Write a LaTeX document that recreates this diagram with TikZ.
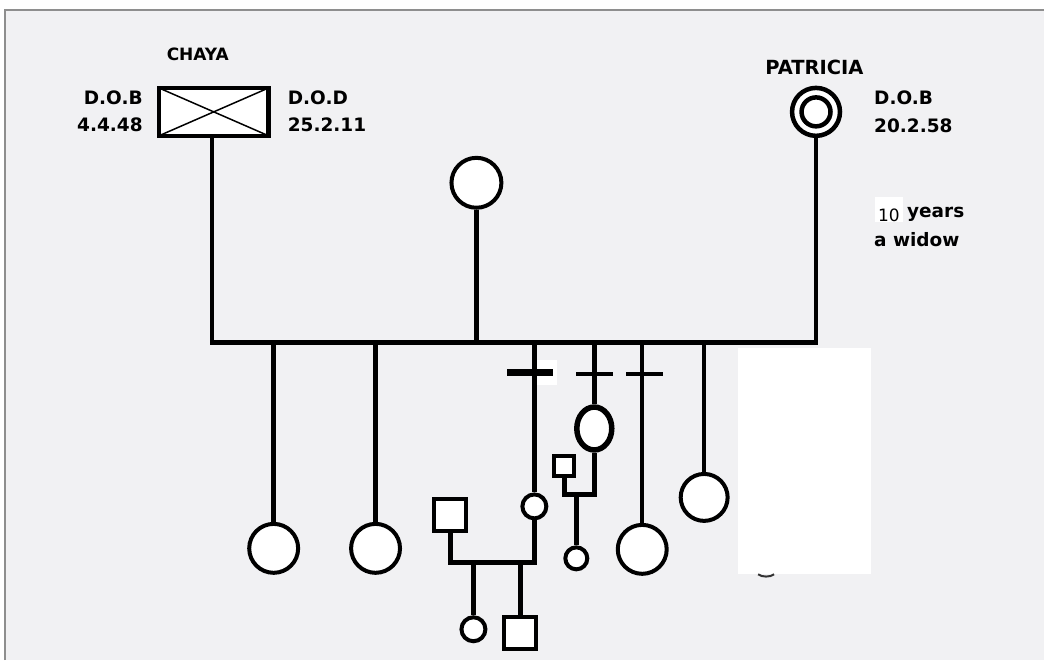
\documentclass[tikz,border=0pt]{standalone}
\usepackage{fontspec}
\setmainfont{DejaVu Sans}
\usetikzlibrary{shapes.geometric}
\definecolor{bgc}{HTML}{F1F1F3}
\definecolor{framec}{HTML}{8E8E8E}
\begin{document}
\begin{tikzpicture}[x=1pt,y=-1pt,
  ln/.style={line width=4.5pt},
  pc/.style={circle,draw,fill=white,line width=4pt,inner sep=0pt},
  ps/.style={rectangle,draw,fill=white,line width=4pt,inner sep=0pt},
  lbl/.style={font=\bfseries\fontsize{18.5}{18.5}\selectfont,inner sep=0pt},
  barthin/.style={line width=4pt},
  barthick/.style={line width=6.5pt}]
\fill[white] (0,0) rectangle (1045,661);
\fill[bgc] (5,10) rectangle (1045,661);
\draw[framec,line width=2.5pt] (5,661) -- (5,10) -- (1045,10);
\useasboundingbox (0,0) rectangle (1045,661);

% Chaya
\node[ps,line width=4.5pt,minimum width=110pt,minimum height=48pt,
  path picture={\draw[line width=1.5pt]
    (path picture bounding box.north west) -- (path picture bounding box.south east)
    (path picture bounding box.north east) -- (path picture bounding box.south west);}]
  (chaya) at (214,112) {};
\node[lbl,font=\bfseries\fontsize{17}{17}\selectfont,anchor=base] (nchaya) at (198,61) {CHAYA};
\node[lbl,anchor=base east] (dob1) at (143,105) {D.O.B};
\node[lbl,anchor=base east] (dobv1) at (143,132) {4.4.48};
\node[lbl,anchor=base west] (dod) at (288,105) {D.O.D};
\node[lbl,anchor=base west] (dodv) at (288,132) {25.2.11};

% Patricia
\node[pc,line width=4.5pt,minimum size=48pt] (pat) at (817,112) {};
\node[circle,draw,line width=4.5pt,minimum size=29pt,inner sep=0pt] (pati) at (817,112) {};
\node[lbl,font=\bfseries\fontsize{19.5}{19.5}\selectfont,anchor=base west] (npat) at (766,75) {PATRICIA};
\node[lbl,anchor=base west] (dob2) at (875,105) {D.O.B};
\node[lbl,anchor=base west] (dobv2) at (875,133) {20.2.58};
\node[fill=white,minimum width=28pt,minimum height=25pt,inner sep=0pt,anchor=north west] (tenbox) at (876,197) {};
\node[font=\fontsize{17}{17}\selectfont,inner sep=0pt,anchor=base] (ten) at (890,222) {10};
\node[lbl,anchor=base west] (years) at (908,218) {years};
\node[lbl,anchor=base west] (widow) at (875,247) {a widow};

% middle parent
\node[pc,minimum size=50pt] (mid) at (477,183) {};

% main line
\coordinate (jL) at (212,343);
\coordinate (jR) at (817,343);
\draw[ln] (chaya.south -| jL) -- (jL) -- (jR) -- (pat.south);
\draw[ln] (mid.south) -- (mid.south |- jL);

% children
\node[pc,minimum size=49pt] (k1) at (274,549) {};
\node[pc,minimum size=49pt] (k2) at (376,549) {};
\node[pc,minimum size=24pt] (k3) at (535,507) {};
\node[ellipse,draw,fill=white,line width=5.5pt,minimum width=35pt,minimum height=43pt,inner sep=0pt] (k4) at (595,429) {};
\node[pc,minimum size=49pt] (k5) at (643,550) {};
\node[pc,minimum size=47pt] (k6) at (705,498) {};
\foreach \k in {k1,k2,k3,k4,k5,k6}
  \draw[ln] (\k.north |- jL) -- (\k.north);

% bars (separations)
\fill[white] (538,360) rectangle (558,385);
\coordinate (b3L) at (508,373); \coordinate (b3R) at (554,373);
\draw[barthick] (b3L) -- (b3R);
\coordinate (b4L) at (577,374); \coordinate (b4R) at (614,374);
\draw[barthin] (b4L) -- (b4R);
\coordinate (b5L) at (627,374); \coordinate (b5R) at (664,374);
\draw[barthin] (b5L) -- (b5R);

% family of k3
\node[ps,minimum size=32pt] (s3) at (451,516) {};
\coordinate (u3L) at (451,563);
\coordinate (u3R) at (535,563);
\draw[ln] (s3.south) -- (u3L) -- (u3R) -- (k3.south);
\node[pc,minimum size=24pt] (g1) at (474,630) {};
\node[ps,minimum size=32pt] (g2) at (521,634) {};
\draw[ln] (g1.north |- u3L) -- (g1.north);
\draw[ln] (g2.north |- u3L) -- (g2.north);

% family of k4
\node[ps,minimum size=20pt] (s4) at (565,467) {};
\coordinate (u4L) at (565,495);
\coordinate (u4R) at (595,495);
\draw[ln] (s4.south) -- (u4L) -- (u4R) -- (k4.south);
\node[pc,minimum size=22pt] (g3) at (577,559) {};
\draw[ln] (g3.north |- u4L) -- (g3.north);

% white cover patch
\fill[white] (739,348) rectangle (872,575);
\coordinate (spA) at (759,575);
\coordinate (spB) at (775,575);
\draw[line width=2pt,black!80] (spA) .. controls (763,578) and (771,578) .. (spB);
\end{tikzpicture}
\end{document}
